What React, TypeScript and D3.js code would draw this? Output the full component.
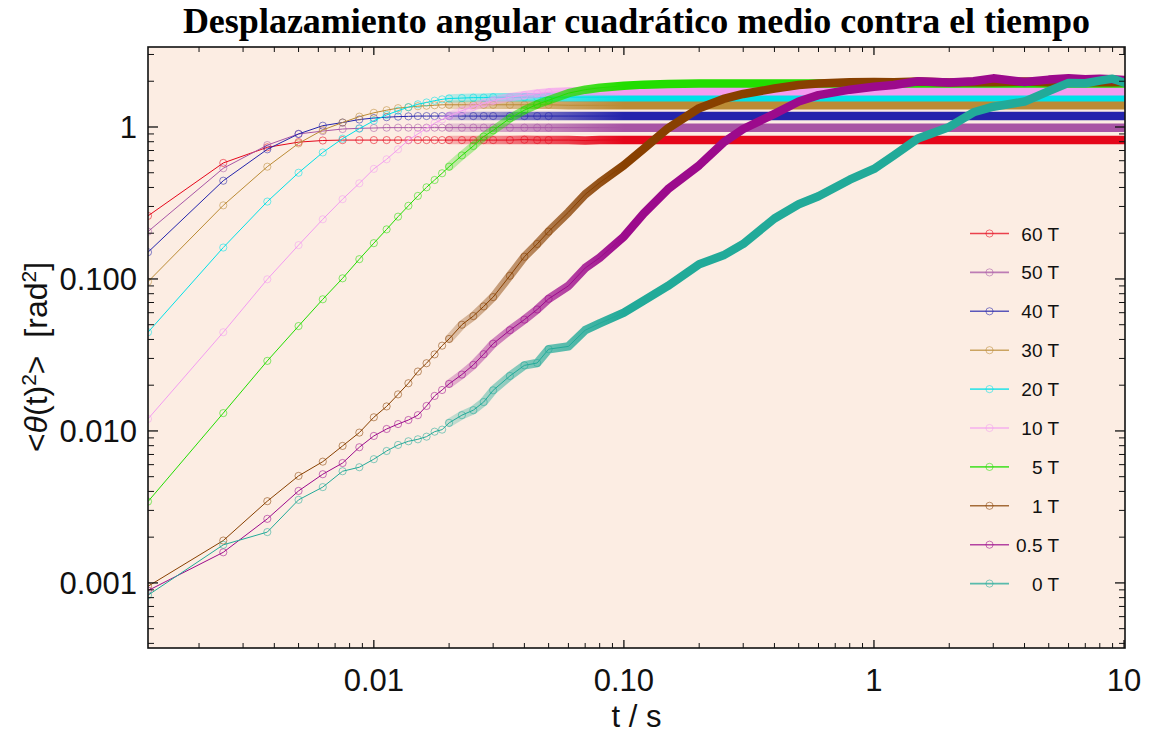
import React from "react";
import * as d3 from "d3";

const W = 1155;
const H = 738;

const seriesLabels = ["60 T", "50 T", "40 T", "30 T", "20 T", "10 T", "5 T", "1 T", "0.5 T", "0 T"];
const seriesColors = ["#e5061a", "#a855a5", "#2424ac", "#bb8b35", "#00e0e8", "#f39cf0", "#22dd00", "#884000", "#9c0a8c", "#22aa99"];

const earlyTimes = [0.00125, 0.0025, 0.00375, 0.005, 0.00625, 0.0075, 0.00875, 0.01, 0.01125, 0.0125, 0.01375, 0.015, 0.01625, 0.0175, 0.01875, 0.02];
const lateTimes = [0.0225, 0.025, 0.0275, 0.03, 0.035, 0.04, 0.045, 0.05, 0.06, 0.07, 0.08, 0.1, 0.12, 0.15, 0.2, 0.25, 0.3, 0.4, 0.5, 0.6, 0.8, 1, 1.2, 1.5, 2, 2.5, 3, 4, 5, 6, 7, 8, 9, 10];

const early60T = [0.26, 0.58, 0.735, 0.795, 0.815, 0.82, 0.82, 0.82, 0.82, 0.82, 0.82, 0.82, 0.82, 0.82, 0.82, 0.82];
const early50T = [0.205, 0.535, 0.76, 0.9, 0.94, 0.97, 0.98, 0.985, 0.99, 0.99, 0.99, 0.99, 0.99, 0.99, 0.99, 0.99];
const early40T = [0.15, 0.443, 0.713, 0.9, 1.02, 1.07, 1.12, 1.145, 1.16, 1.17, 1.175, 1.18, 1.18, 1.18, 1.18, 1.18];
const early30T = [0.096, 0.305, 0.548, 0.78, 0.956, 1.07, 1.17, 1.24, 1.29, 1.33, 1.35, 1.37, 1.38, 1.39, 1.4, 1.4];
const early20T = [0.0446, 0.161, 0.323, 0.5, 0.68, 0.838, 0.975, 1.1, 1.2, 1.28, 1.35, 1.41, 1.45, 1.49, 1.52, 1.54];
const early10T = [0.012, 0.0446, 0.0995, 0.167, 0.247, 0.335, 0.426, 0.53, 0.613, 0.713, 0.82, 0.9, 0.98, 1.06, 1.12, 1.18];
const early5T = [0.00343, 0.0131, 0.0289, 0.049, 0.0735, 0.101, 0.135, 0.172, 0.212, 0.257, 0.303, 0.352, 0.401, 0.448, 0.496, 0.548];
const early1T = [0.00095, 0.0019, 0.00345, 0.00506, 0.00628, 0.00797, 0.00975, 0.0123, 0.0145, 0.0174, 0.0206, 0.0246, 0.0279, 0.0319, 0.0364, 0.0403];
const early05T = [0.00089, 0.00159, 0.00264, 0.00403, 0.00519, 0.00615, 0.00781, 0.00927, 0.0103, 0.0111, 0.0118, 0.0127, 0.0146, 0.017, 0.0186, 0.0204];
const early0T = [0.00083, 0.00178, 0.00216, 0.00352, 0.00427, 0.00543, 0.00577, 0.00652, 0.00738, 0.00809, 0.00855, 0.00881, 0.00917, 0.00989, 0.0102, 0.0113];

const late60T = [0.82, 0.82, 0.82, 0.82, 0.82, 0.825, 0.82, 0.82, 0.82, 0.815, 0.82, 0.82, 0.82, 0.82, 0.82, 0.82, 0.82, 0.82, 0.82, 0.82, 0.82, 0.82, 0.82, 0.82, 0.82, 0.82, 0.82, 0.82, 0.82, 0.82, 0.82, 0.82, 0.82, 0.82];
const late50T = [0.99, 0.99, 0.99, 0.99, 0.99, 0.99, 0.99, 0.99, 0.99, 0.99, 0.99, 0.99, 0.99, 0.99, 0.99, 0.99, 0.99, 0.99, 0.99, 0.99, 0.99, 0.99, 0.99, 0.99, 0.99, 0.99, 0.99, 0.99, 0.99, 0.99, 0.99, 0.99, 0.99, 0.99];
const late40T = [1.18, 1.18, 1.18, 1.18, 1.18, 1.18, 1.18, 1.18, 1.18, 1.18, 1.18, 1.18, 1.18, 1.18, 1.18, 1.18, 1.18, 1.18, 1.18, 1.18, 1.18, 1.18, 1.18, 1.18, 1.18, 1.18, 1.18, 1.18, 1.18, 1.18, 1.18, 1.18, 1.18, 1.18];
const late30T = [1.4, 1.4, 1.4, 1.4, 1.4, 1.4, 1.4, 1.4, 1.39, 1.39, 1.39, 1.39, 1.39, 1.39, 1.39, 1.39, 1.39, 1.39, 1.39, 1.39, 1.39, 1.39, 1.39, 1.39, 1.39, 1.39, 1.39, 1.39, 1.39, 1.39, 1.39, 1.39, 1.39, 1.39];
const late20T = [1.55, 1.56, 1.56, 1.57, 1.57, 1.57, 1.57, 1.57, 1.57, 1.57, 1.57, 1.57, 1.57, 1.57, 1.57, 1.57, 1.57, 1.57, 1.57, 1.57, 1.57, 1.57, 1.57, 1.57, 1.57, 1.57, 1.57, 1.57, 1.57, 1.57, 1.57, 1.57, 1.57, 1.57];
const late10T = [1.28, 1.36, 1.43, 1.49, 1.57, 1.62, 1.66, 1.69, 1.71, 1.72, 1.72, 1.72, 1.72, 1.72, 1.72, 1.72, 1.72, 1.72, 1.72, 1.72, 1.72, 1.72, 1.72, 1.72, 1.72, 1.72, 1.72, 1.72, 1.72, 1.72, 1.72, 1.72, 1.72, 1.72];
const late5T = [0.65, 0.75, 0.865, 0.95, 1.14, 1.29, 1.41, 1.5, 1.67, 1.76, 1.81, 1.87, 1.9, 1.92, 1.93, 1.93, 1.93, 1.93, 1.93, 1.93, 1.93, 1.93, 1.93, 1.93, 1.93, 1.93, 1.93, 1.93, 1.93, 1.93, 1.93, 1.93, 1.93, 1.93];
const late1T = [0.05, 0.057, 0.066, 0.076, 0.105, 0.14, 0.17, 0.205, 0.275, 0.36, 0.43, 0.56, 0.72, 0.98, 1.33, 1.53, 1.65, 1.79, 1.89, 1.93, 1.97, 1.98, 1.97, 1.99, 1.96, 1.98, 1.97, 1.99, 1.97, 1.98, 1.97, 1.98, 1.97, 1.98];
const late05T = [0.0235, 0.0272, 0.032, 0.0375, 0.046, 0.054, 0.063, 0.074, 0.09, 0.118, 0.138, 0.19, 0.27, 0.39, 0.56, 0.79, 0.97, 1.22, 1.47, 1.62, 1.76, 1.84, 1.89, 2.0, 1.96, 2.0, 2.09, 1.98, 2.05, 2.09, 2.06, 2.08, 2.06, 2.04];
const late0T = [0.0127, 0.0137, 0.0155, 0.0185, 0.023, 0.027, 0.028, 0.0345, 0.036, 0.046, 0.051, 0.06, 0.072, 0.09, 0.125, 0.143, 0.17, 0.25, 0.31, 0.35, 0.45, 0.53, 0.65, 0.84, 1.0, 1.25, 1.36, 1.47, 1.72, 1.95, 1.94, 2.02, 2.08, 1.96];

const earlyValues = [early60T, early50T, early40T, early30T, early20T, early10T, early5T, early1T, early05T, early0T];
const lateValues = [late60T, late50T, late40T, late30T, late20T, late10T, late5T, late1T, late05T, late0T];

const xMajorTicks = [0.01, 0.1, 1, 10];
const xMajorLabels = ["0.01", "0.10", "1", "10"];
const yMajorTicks = [1, 0.1, 0.01, 0.001];
const yMajorLabels = ["1", "0.100", "0.010", "0.001"];

const title = "Desplazamiento angular cuadrático medio contra el tiempo";

const PL = 148, PR = 1125, PT = 47, PB = 648;

export default function App() {
  const x = d3.scaleLog().domain([0.00125, 10.09]).range([PL, PR]);
  const y = d3.scaleLog().domain([3.36, 0.000373]).range([PT, PB]);
  const line = d3.line<[number, number]>().x((d) => x(d[0])).y((d) => y(d[1]));

  const xMinor = x.ticks().filter((t) => !xMajorTicks.some((m) => Math.abs(m - t) / m < 1e-6));
  const yMinor = y.ticks().filter((t) => !yMajorTicks.some((m) => Math.abs(m - t) / m < 1e-6));

  const series = seriesLabels.map((label, i) => {
    const early: [number, number][] = earlyTimes.map((t, k) => [t, earlyValues[i][k]]);
    const late: [number, number][] = lateTimes.map((t, k) => [t, lateValues[i][k]]);
    return { label, color: seriesColors[i], early, late, all: early.concat(late) };
  });

  const font = "'Liberation Sans', Arial, sans-serif";
  const gx1 = x(0.02);
  const gx2 = x(0.1);

  return (
    <svg width={W} height={H} style={{ position: "absolute", left: 0, top: 0, background: "#fff" }}>
      <defs>
        <clipPath id="plotClip">
          <rect x={PL} y={PT} width={PR - PL} height={PB - PT} />
        </clipPath>
        {series.map((s, i) => (
          <linearGradient key={i} id={`band${i}`} gradientUnits="userSpaceOnUse" x1={gx1} y1={0} x2={gx2} y2={0}>
            <stop offset="0" stopColor={s.color} stopOpacity={0.25} />
            <stop offset="1" stopColor={s.color} stopOpacity={1} />
          </linearGradient>
        ))}
      </defs>
      <rect x={PL} y={PT} width={PR - PL} height={PB - PT} fill="#fcede3" />
      <text x={(PL + PR) / 2} y={33} textAnchor="middle" fontFamily="'Liberation Serif', 'Times New Roman', serif" fontWeight="bold" fontSize={36}>
        {title}
      </text>

      <g clipPath="url(#plotClip)">
        {series.map((s, i) => (
          <g key={i}>
            <path d={line(s.all) || ""} fill="none" stroke={s.color} strokeWidth={1} />
            <path
              d={line([s.early[s.early.length - 1]].concat(s.late)) || ""}
              fill="none"
              stroke={`url(#band${i})`}
              strokeWidth={8.5}
              strokeLinecap="round"
              strokeLinejoin="round"
            />
            {s.early.concat(s.late.filter((d) => d[0] <= 0.05)).map((d, k) => (
              <circle key={k} cx={x(d[0])} cy={y(d[1])} r={3.6} fill="none" stroke={s.color} strokeOpacity={0.55} strokeWidth={1} />
            ))}
          </g>
        ))}
      </g>

      {/* frame */}
      <rect x={PL} y={PT} width={PR - PL} height={PB - PT} fill="none" stroke="#111" strokeWidth={1.6} />

      {/* x ticks */}
      {xMajorTicks.map((t, i) => (
        <g key={"xm" + i}>
          <line x1={x(t)} x2={x(t)} y1={PB} y2={PB - 8} stroke="#111" strokeWidth={1.3} />
          <line x1={x(t)} x2={x(t)} y1={PT} y2={PT + 8} stroke="#111" strokeWidth={1.3} />
          <text x={x(t)} y={691} textAnchor="middle" fontFamily={font} fontSize={31} fill="#111">
            {xMajorLabels[i]}
          </text>
        </g>
      ))}
      {xMinor.map((t, i) => (
        <g key={"xn" + i}>
          <line x1={x(t)} x2={x(t)} y1={PB} y2={PB - 5} stroke="#111" strokeWidth={1} />
          <line x1={x(t)} x2={x(t)} y1={PT} y2={PT + 5} stroke="#111" strokeWidth={1} />
        </g>
      ))}

      {/* y ticks */}
      {yMajorTicks.map((t, i) => (
        <g key={"ym" + i}>
          <line x1={PL} x2={PL + 10} y1={y(t)} y2={y(t)} stroke="#111" strokeWidth={1.3} />
          <line x1={PR} x2={PR - 10} y1={y(t)} y2={y(t)} stroke="#111" strokeWidth={1.3} />
          <text x={137} y={y(t) + 11} textAnchor="end" fontFamily={font} fontSize={31} fill="#111">
            {yMajorLabels[i]}
          </text>
        </g>
      ))}
      {yMinor.map((t, i) => (
        <g key={"yn" + i}>
          <line x1={PL} x2={PL + 6} y1={y(t)} y2={y(t)} stroke="#111" strokeWidth={1} />
          <line x1={PR} x2={PR - 6} y1={y(t)} y2={y(t)} stroke="#111" strokeWidth={1} />
        </g>
      ))}

      {/* axis titles */}
      <text x={(PL + PR) / 2} y={727} textAnchor="middle" fontFamily={font} fontSize={31} fill="#111">
        t / s
      </text>
      <text transform="translate(47,357) rotate(-90)" textAnchor="middle" fontFamily={font} fontSize={32} fill="#111">
        {"<"}
        <tspan fontStyle="italic">θ</tspan>
        {"(t)"}
        <tspan baselineShift="super" fontSize={21}>2</tspan>
        {">\u00a0\u00a0[rad"}
        <tspan baselineShift="super" fontSize={21}>2</tspan>
        {"]"}
      </text>

      {/* legend */}
      {series.map((s, i) => {
        const ly = 233.5 + i * 38.9;
        return (
          <g key={"lg" + i}>
            <line x1={970} x2={1009} y1={ly} y2={ly} stroke={s.color} strokeOpacity={0.75} strokeWidth={1.6} />
            <circle cx={989.5} cy={ly} r={3.6} fill="none" stroke={s.color} strokeOpacity={0.55} strokeWidth={1} />
            <text x={1059} y={ly + 7} textAnchor="end" fontFamily={font} fontSize={19} fill="#111">
              {s.label}
            </text>
          </g>
        );
      })}
    </svg>
  );
}
